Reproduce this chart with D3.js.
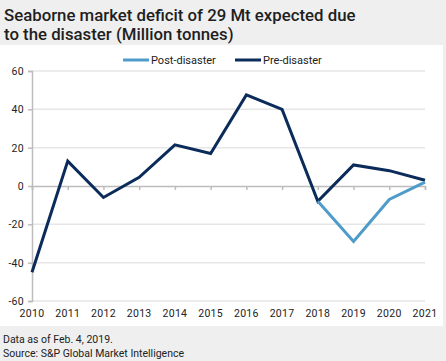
<!DOCTYPE html>
<html>
<head>
<meta charset="utf-8">
<script src="https://cdn.jsdelivr.net/npm/d3@7"></script>
<style>
  body { margin: 0; background: #efefef; }
  svg { display: block; font-family: Roboto, "Liberation Sans", sans-serif; }
</style>
</head>
<body>
<div id="chart"></div>
<script>
// data
const years = [2010, 2011, 2012, 2013, 2014, 2015, 2016, 2017, 2018, 2019, 2020, 2021]
const preDisaster = [-45, 13, -6, 4.5, 21.5, 17, 47.5, 40, -8, 11, 8, 3]
const postYears = [2018, 2019, 2020, 2021]
const postDisaster = [-8, -29, -7, 2]
const yTicks = [-60, -40, -20, 0, 20, 40, 60]
const legendItems = [
  { name: "Post-disaster", color: "#4f9bc9" },
  { name: "Pre-disaster", color: "#0b2c5a" },
]

const dimensions = {
  width: 446,
  height: 361,
  margin: { top: 71, right: 21, bottom: 60, left: 32 },
}
dimensions.boundedWidth = dimensions.width - dimensions.margin.left - dimensions.margin.right
dimensions.boundedHeight = dimensions.height - dimensions.margin.top - dimensions.margin.bottom

const svg = d3.select("#chart").append("svg")
  .attr("width", dimensions.width)
  .attr("height", dimensions.height)

// background panels
svg.append("rect").attr("width", dimensions.width).attr("height", dimensions.height).attr("fill", "#efefef")
svg.append("rect").attr("x", 0).attr("y", 45).attr("width", 443).attr("height", 281).attr("fill", "#fff")

// title
const title = svg.append("text")
  .attr("x", 4).attr("y", 21)
  .attr("fill", "#1e1e1e")
  .style("font-size", "16.8px")
  .style("font-weight", 500)
title.append("tspan").attr("x", 4).text("Seaborne market deficit of 29 Mt expected due")
title.append("tspan").attr("x", 4).attr("dy", 19).text("to the disaster (Million tonnes)")

const bounds = svg.append("g")
  .attr("transform", `translate(${dimensions.margin.left},${dimensions.margin.top})`)

const xScale = d3.scalePoint()
  .domain(years)
  .range([0, dimensions.boundedWidth])

const yScale = d3.scaleLinear()
  .domain([-60, 60])
  .range([dimensions.boundedHeight, 0])

// gridlines
bounds.selectAll(".grid")
  .data(yTicks.filter(d => d !== 0))
  .join("line")
  .attr("class", "grid")
  .attr("x1", 0).attr("x2", dimensions.boundedWidth)
  .attr("y1", d => yScale(d)).attr("y2", d => yScale(d))
  .attr("stroke", "#e6e6e6")
  .attr("stroke-width", 1.5)

// y axis
const yAxis = bounds.append("g")
  .call(d3.axisLeft(yScale).tickValues(yTicks).tickSize(4).tickPadding(5).tickFormat(d => String(d)))
yAxis.select(".domain").attr("stroke", "#bcbcbc").attr("stroke-width", 1.5)
yAxis.selectAll(".tick line").attr("stroke", "#bcbcbc").attr("stroke-width", 1.5)
yAxis.selectAll(".tick text")
  .attr("fill", "#222")
  .style("font-size", "10.5px")
  .style("font-family", "Roboto, sans-serif")
  .style("letter-spacing", "0.3px")
  .attr("x", -8)

// zero line with year ticks
const xAxis = bounds.append("g")
  .attr("transform", `translate(0,${yScale(0)})`)
  .call(d3.axisBottom(xScale).tickSize(4).tickFormat(""))
xAxis.select(".domain").attr("stroke", "#bcbcbc").attr("stroke-width", 1.5)
xAxis.selectAll(".tick line").attr("stroke", "#bcbcbc").attr("stroke-width", 1.5)

// year labels along the bottom
bounds.selectAll(".year")
  .data(years)
  .join("text")
  .attr("class", "year")
  .attr("x", d => xScale(d))
  .attr("y", dimensions.boundedHeight + 16)
  .attr("text-anchor", "middle")
  .attr("fill", "#222")
  .style("font-size", "10.5px")
  .style("letter-spacing", "0.3px")
  .text(d => d)

// lines
const line = d3.line()
  .x(d => xScale(d[0]))
  .y(d => yScale(d[1]))

bounds.append("path")
  .datum(years.map((y, i) => [y, preDisaster[i]]))
  .attr("d", line)
  .attr("fill", "none")
  .attr("stroke", legendItems[1].color)
  .attr("stroke-width", 3)
  .attr("stroke-linejoin", "miter")

bounds.append("path")
  .datum(postYears.map((y, i) => [y, postDisaster[i]]))
  .attr("d", line)
  .attr("fill", "none")
  .attr("stroke", legendItems[0].color)
  .attr("stroke-width", 3)

// legend
const legendX = [123, 235]
legendItems.forEach((d, i) => {
  const g = svg.append("g").attr("transform", `translate(${legendX[i]},60)`)
  g.append("line")
    .attr("x1", 0).attr("x2", 26)
    .attr("stroke", d.color)
    .attr("stroke-width", 3)
  g.append("text")
    .attr("x", 28).attr("y", 4)
    .attr("fill", "#222")
    .style("font-size", "11px")
    .text(d.name)
})

// footer
svg.append("text").attr("x", 3).attr("y", 343)
  .attr("fill", "#222").style("font-size", "10.5px")
  .text("Data as of Feb. 4, 2019.")
svg.append("text").attr("x", 3).attr("y", 357)
  .attr("fill", "#222").style("font-size", "10.5px")
  .text("Source: S&P Global Market Intelligence")
</script>
</body>
</html>
